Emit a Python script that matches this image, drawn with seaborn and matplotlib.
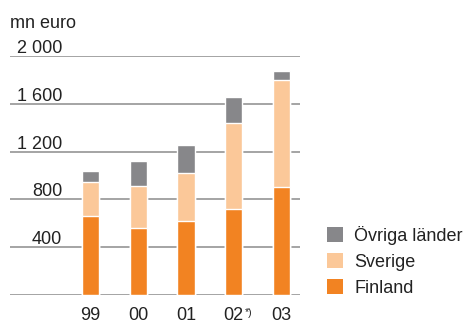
import matplotlib
matplotlib.use("Agg")
import matplotlib.pyplot as plt
import seaborn as sns
import pandas as pd
import numpy as np

years = ["99", "00", "01", "02", "03"]
finland = [660, 560, 620, 720, 905]
sverige = [285, 350, 400, 720, 895]
ovriga = [90, 210, 235, 215, 75]
series_names = ["Övriga länder", "Sverige", "Finland"]
ytick_vals = [400, 800, 1200, 1600, 2000]
ytick_labels = ["400", "800", "1 200", "1 600", "2 000"]
unit_label = "mn euro"
footnote_mark = "*)"

C_GRAY = "#87878a"
C_LIGHT = "#fbc899"
C_ORANGE = "#f28322"

sns.set_theme(style="white")
plt.rcParams["font.family"] = ["Liberation Sans", "DejaVu Sans"]
FS = 13

W, H = 467, 320
fig = plt.figure(figsize=(W / 100, H / 100), dpi=100)
ax = fig.add_axes([10 / W, (H - 295) / H, 290 / W, (295 - 56) / H])

df = pd.DataFrame({"year": years, "Finland": finland, "Sverige": sverige, "Övriga": ovriga})
df["lvl2"] = df["Finland"] + df["Sverige"]
df["lvl3"] = df["lvl2"] + df["Övriga"]

w = 0.36
sns.barplot(data=df, x="year", y="lvl3", color=C_GRAY, saturation=1, width=w, ax=ax, zorder=3)
sns.barplot(data=df, x="year", y="lvl2", color=C_LIGHT, saturation=1, width=w, ax=ax, zorder=3)
sns.barplot(data=df, x="year", y="Finland", color=C_ORANGE, saturation=1, width=w, ax=ax, zorder=3)

ax.set_xlim(-1.686, 4.387)
ax.set_ylim(0, 2000)
for s in ax.spines.values():
    s.set_visible(False)
for v in [0] + ytick_vals:
    ax.axhline(v, color="#8c8c8c", lw=1.1, zorder=1)
ax.set_yticks([])
ax.set_xlabel("")
ax.set_ylabel("")
ax.tick_params(axis="x", length=0, pad=8.5, labelsize=FS, labelcolor="#222222")

for v, lab in zip(ytick_vals, ytick_labels):
    ax.annotate(lab, xy=((62 - 10) / 290, v), xycoords=("axes fraction", "data"),
                xytext=(0, 2.2), textcoords="offset points", ha="right", va="baseline",
                fontsize=FS, color="#222222")

# footnote mark next to "02"
ax.annotate(footnote_mark, xy=(3, 0), xycoords="data", xytext=(8.0, -9.0), textcoords="offset points",
            ha="left", va="top", fontsize=7.5, color="#222222")

fig.text(10 / W, 1 - 28 / H, unit_label, ha="left", va="baseline", fontsize=FS, color="#222222")

from matplotlib.patches import Patch
handles = [Patch(facecolor=c, edgecolor="none") for c in [C_GRAY, C_LIGHT, C_ORANGE]]
fig.legend(handles, series_names, loc="upper left", bbox_to_anchor=(327 / W, 1 - 226 / H),
           frameon=False, fontsize=FS, handlelength=0.9, handleheight=0.9, handletextpad=0.6,
           labelspacing=0.45, borderaxespad=0, borderpad=0, labelcolor="#222222")

fig.savefig("out.png", dpi=100)
